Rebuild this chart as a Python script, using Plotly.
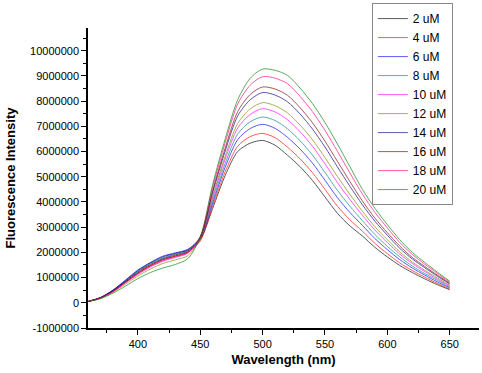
import plotly.graph_objects as go

wavelength = [360, 370, 380, 390, 400, 410, 420, 430, 440, 450,
              460, 470, 480, 490, 500, 510, 520, 530, 540, 550,
              560, 570, 580, 590, 600, 610, 620, 630, 640, 650]

# intensities in units of 1,000,000
s2 = [0.05, 0.20, 0.48, 0.85, 1.22, 1.52, 1.75, 1.90, 2.05, 2.50,
      3.75, 5.05, 6.00, 6.33, 6.44, 6.25, 5.85, 5.40, 4.85, 4.20,
      3.55, 3.05, 2.65, 2.20, 1.82, 1.48, 1.20, 0.95, 0.72, 0.52]
s4 = [0.05, 0.19, 0.46, 0.82, 1.18, 1.47, 1.70, 1.85, 2.00, 2.45,
      3.85, 5.20, 6.21, 6.59, 6.72, 6.55, 6.17, 5.71, 5.16, 4.50,
      3.83, 3.29, 2.84, 2.36, 1.95, 1.58, 1.28, 1.02, 0.77, 0.55]
s6 = [0.05, 0.21, 0.50, 0.90, 1.30, 1.60, 1.85, 1.98, 2.12, 2.55,
      3.96, 5.38, 6.47, 6.91, 7.08, 6.92, 6.56, 6.10, 5.54, 4.86,
      4.17, 3.58, 3.07, 2.55, 2.11, 1.71, 1.38, 1.10, 0.83, 0.60]
s8 = [0.05, 0.20, 0.48, 0.86, 1.25, 1.55, 1.78, 1.93, 2.08, 2.55,
      4.06, 5.53, 6.69, 7.18, 7.37, 7.23, 6.90, 6.43, 5.86, 5.17,
      4.46, 3.83, 3.26, 2.71, 2.24, 1.82, 1.46, 1.16, 0.89, 0.63]
s10 = [0.05, 0.19, 0.45, 0.80, 1.15, 1.45, 1.68, 1.83, 1.98, 2.55,
       4.17, 5.70, 6.93, 7.47, 7.70, 7.57, 7.26, 6.79, 6.21, 5.51,
       4.77, 4.10, 3.47, 2.89, 2.39, 1.93, 1.56, 1.24, 0.94, 0.67]
s12 = [0.05, 0.18, 0.42, 0.74, 1.06, 1.34, 1.56, 1.70, 1.87, 2.55,
       4.25, 5.82, 7.11, 7.69, 7.94, 7.82, 7.53, 7.05, 6.47, 5.76,
       5.01, 4.30, 3.63, 3.02, 2.50, 2.02, 1.62, 1.29, 0.99, 0.70]
s14 = [0.05, 0.21, 0.50, 0.88, 1.28, 1.58, 1.82, 1.96, 2.10, 2.62,
       4.39, 6.02, 7.41, 8.05, 8.34, 8.24, 7.97, 7.49, 6.89, 6.18,
       5.39, 4.62, 3.89, 3.24, 2.68, 2.16, 1.74, 1.39, 1.06, 0.75]
s16 = [0.05, 0.19, 0.46, 0.82, 1.18, 1.48, 1.72, 1.86, 2.02, 2.60,
       4.46, 6.14, 7.58, 8.26, 8.56, 8.48, 8.23, 7.74, 7.14, 6.41,
       5.61, 4.81, 4.04, 3.36, 2.78, 2.25, 1.80, 1.44, 1.10, 0.78]
s18 = [0.05, 0.19, 0.44, 0.79, 1.13, 1.42, 1.65, 1.80, 1.97, 2.62,
       4.60, 6.35, 7.88, 8.63, 8.97, 8.91, 8.69, 8.19, 7.58, 6.84,
       6.01, 5.15, 4.31, 3.59, 2.97, 2.39, 1.92, 1.53, 1.17, 0.82]
s20 = [0.05, 0.16, 0.38, 0.66, 0.96, 1.20, 1.38, 1.52, 1.75, 2.60,
       4.70, 6.50, 8.05, 8.90, 9.27, 9.22, 9.02, 8.52, 7.90, 7.15,
       6.30, 5.40, 4.50, 3.75, 3.10, 2.50, 2.00, 1.60, 1.22, 0.86]

series_names = ["2 uM", "4 uM", "6 uM", "8 uM", "10 uM",
                "12 uM", "14 uM", "16 uM", "18 uM", "20 uM"]
series_values = [s2, s4, s6, s8, s10, s12, s14, s16, s18, s20]
series_colors = ["#000000", "#FF0000", "#0000FF", "#008080", "#FF00FF",
                 "#808000", "#000080", "#800000", "#FF0080", "#008000"]

y_tick_vals = [-1000000, 0, 1000000, 2000000, 3000000, 4000000, 5000000,
               6000000, 7000000, 8000000, 9000000, 10000000]
y_tick_text = ["-1000000", "0", "1000000", "2000000", "3000000", "4000000",
               "5000000", "6000000", "7000000", "8000000", "9000000", "10000000"]
x_tick_vals = [400, 450, 500, 550, 600, 650]
x_tick_text = ["400", "450", "500", "550", "600", "650"]
x_minor_vals = [375, 425, 475, 525, 575, 625, 675]

FONT = "Arial, Liberation Sans, sans-serif"

fig = go.Figure()
for name, vals, col in zip(series_names, series_values, series_colors):
    fig.add_trace(go.Scatter(
        x=wavelength, y=[v * 1e6 for v in vals], mode="lines", name=name,
        line=dict(color=col, width=1, shape="spline", smoothing=0.8),
        opacity=0.65,
    ))

fig.update_layout(
    width=482, height=373,
    margin=dict(l=88, r=3, t=28, b=45),
    paper_bgcolor="white", plot_bgcolor="white",
    font=dict(family=FONT, size=11, color="black"),
    legend=dict(
        x=0.726, y=1.083, xanchor="left", yanchor="top",
        bordercolor="#888888", borderwidth=1, bgcolor="white",
        font=dict(family=FONT, size=12, color="black"),
        tracegroupgap=0, itemwidth=30, maxheight=400,
    ),
    xaxis=dict(
        range=[360, 673.5], showgrid=False, zeroline=False, automargin=False,
        showline=True, linecolor="black", linewidth=1.5,
        ticks="outside", ticklen=5, tickwidth=1, tickcolor="black",
        tickvals=x_tick_vals, ticktext=x_tick_text,
        minor=dict(ticks="outside", ticklen=3, tickvals=x_minor_vals, tickcolor="black"),
        title=dict(text="<b>Wavelength (nm)</b>", font=dict(family=FONT, size=13), standoff=6),
        tickfont=dict(family=FONT, size=11),
    ),
    yaxis=dict(
        range=[-1000000, 10900000], showgrid=False, zeroline=False, automargin=False,
        showline=True, linecolor="black", linewidth=1.5,
        ticks="outside", ticklen=5, tickwidth=1, tickcolor="black",
        tickvals=y_tick_vals, ticktext=y_tick_text,
        minor=dict(ticks="outside", ticklen=3, dtick=500000, tick0=0, tickcolor="black"),
        title=dict(text="<b>Fluorescence Intensity</b>", font=dict(family=FONT, size=13), standoff=12),
        tickfont=dict(family=FONT, size=11),
    ),
)

fig.write_html("out.html", config={"displayModeBar": False},
               post_script="document.body.style.margin='0';")
